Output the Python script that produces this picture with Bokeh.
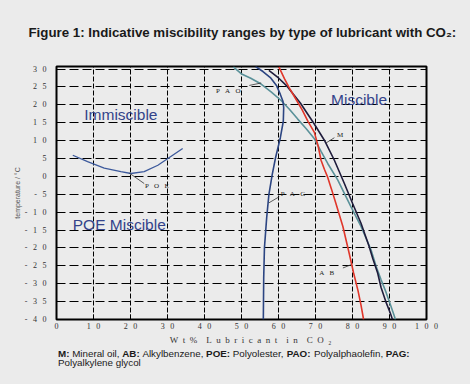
from bokeh.plotting import figure
from bokeh.models import Label, Range1d, FixedTicker
from bokeh.layouts import column
from bokeh.embed import file_html
from bokeh.resources import INLINE

# ---------------- data ----------------
pag_x = [53.8, 55.8, 57.8, 59.5, 60.5, 61.2, 61.4, 61.3, 60.5, 59.2, 58.3, 57.4, 56.8, 56.2, 56.0, 55.9]
pag_y = [30.7, 29.3, 27.6, 25.3, 22.9, 21.0, 19.2, 15.4, 10.8, 5.2, 0.5, -5.1, -11.6, -20.0, -28.4, -40.0]

m_x = [57.4, 60.0, 62.3, 65.9, 69.5, 72.4, 75.1, 77.8, 80.0, 82.3, 84.5, 85.5, 86.8, 87.7, 89.0, 90.2, 90.8]
m_y = [29.6, 27.5, 25.2, 20.5, 14.9, 10.1, 4.5, -2.0, -7.5, -13.1, -19.6, -23.0, -27.0, -31.0, -35.0, -38.2, -40.0]

ab_x = [60.1, 61.6, 63.2, 64.8, 66.4, 68.0, 69.7, 70.7, 71.5, 72.4, 73.2, 74.3, 75.5, 77.4, 79.1, 80.3, 81.5, 82.3, 83.0]
ab_y = [30.6, 27.3, 24.2, 21.4, 18.6, 15.3, 12.3, 8.5, 4.5, 2.0, 0.0, -3.5, -7.5, -14.0, -21.5, -27.0, -32.0, -36.0, -40.0]

pao_x = [47.8, 49.9, 52.5, 55.3, 58.0, 60.7, 63.0, 65.2, 67.5, 69.7, 71.5, 73.3, 76.0, 79.6, 82.3, 85.0, 86.4, 87.7, 89.1, 90.3, 91.3, 91.6]
pao_y = [30.6, 28.7, 27.4, 25.8, 23.6, 21.2, 18.7, 16.0, 13.3, 10.5, 7.0, 3.6, -1.0, -8.5, -14.0, -20.5, -25.2, -28.8, -32.5, -36.0, -39.0, -40.0]

poe_x = [4.4, 8.4, 12.9, 17.4, 20.1, 23.7, 27.4, 30.1, 34.1]
poe_y = [5.9, 4.1, 2.3, 1.3, 0.8, 1.3, 3.1, 5.0, 7.8]

x_ticks = [0, 10, 20, 30, 40, 50, 60, 70, 80, 90, 100]
x_tick_labels = ["0", "1 0", "2 0", "3 0", "4 0", "5 0", "6 0", "7 0", "8 0", "9 0", "1 0 0"]
y_ticks = [-40, -35, -30, -25, -20, -15, -10, -5, 0, 5, 10, 15, 20, 25, 30]
y_tick_labels = ["- 4 0", "- 3 5", "- 3 0", "- 2 5", "- 2 0", "- 1 5", "- 1 0", "- 5", "0", "5",
                 "1 0", "1 5", "2 0", "2 5", "3 0"]

title_text = "Figure 1: Indicative miscibility ranges by type of lubricant with CO\u2082:"
x_label = "W t %  L u b r i c a n t  i n  C O \u2082"
y_label = "temperature / \u00b0C"

caption_line1 = [("M:", True), (" Mineral oil, ", False), ("AB:", True), (" Alkylbenzene, ", False),
                 ("POE:", True), (" Polyolester, ", False), ("PAO:", True), (" Polyalphaolefin, ", False),
                 ("PAG:", True)]
caption_line2 = "Polyalkylene glycol"

EN = "\u2002"
THIN = "\u2009"
NB = "\u00a0"


def gap(s, g):
    return s.replace(" ", g)


# ---------------- styling ----------------
BG = "#ebebeb"
NAVY_TXT = "#33438a"
SERIF = "Liberation Serif"
SANS = "Liberation Sans"
W = 470


def strip(height):
    f = figure(width=W, height=height, x_range=Range1d(0, W), y_range=Range1d(0, height),
               output_backend="svg", toolbar_location=None,
               x_axis_location=None, y_axis_location=None,
               min_border=0, min_border_left=0, min_border_right=0, min_border_top=0, min_border_bottom=0,
               background_fill_color=BG, border_fill_color=BG, outline_line_color=None)
    f.xgrid.visible = False
    f.ygrid.visible = False
    if "frame_align" in f.properties():
        f.frame_align = False
    return f


# ---------------- header strip with the title (pixel coordinates) ----------------
HEAD_H = 50
head = strip(HEAD_H)
head.add_layout(Label(x=28, y=18, text=title_text, text_font=SANS, text_font_size="13.3px",
                      text_font_style="bold", text_color="#1a1a1a", text_baseline="alphabetic"))

# ---------------- main chart ----------------
MAIN_H = 283
p = figure(width=W, height=MAIN_H, x_range=Range1d(0, 100), y_range=Range1d(-40, 30.7),
           output_backend="svg", toolbar_location=None,
           min_border_left=56, min_border_right=44, min_border_top=16, min_border_bottom=14,
           background_fill_color=BG, border_fill_color=BG,
           outline_line_color="black", outline_line_width=2)
if "frame_align" in p.properties():
    p.frame_align = False

p.xaxis.ticker = FixedTicker(ticks=x_ticks)
p.yaxis.ticker = FixedTicker(ticks=y_ticks)
p.xaxis.major_label_overrides = {t: gap(l, EN + THIN) for t, l in zip(x_ticks, x_tick_labels)}
p.yaxis.major_label_overrides = {t: gap(l, EN + THIN) for t, l in zip(y_ticks, y_tick_labels)}
for ax in (p.xaxis, p.yaxis):
    ax.axis_line_color = None
    ax.major_tick_in = 5
    ax.major_tick_out = 0
    ax.major_tick_line_color = "black"
    ax.minor_tick_line_color = None
    ax.major_label_text_font = SERIF
    ax.major_label_text_font_size = "8px"
    ax.major_label_text_color = "#333333"
    ax.major_label_text_line_height = 1.0
p.xaxis.major_label_standoff = 2
p.yaxis.major_label_standoff = 10

p.yaxis.axis_label = y_label
p.yaxis.axis_label_text_font = SANS
p.yaxis.axis_label_text_font_size = "7px"
p.yaxis.axis_label_text_font_style = "normal"
p.yaxis.axis_label_text_color = "#555555"
p.yaxis.axis_label_standoff = 1

p.xgrid.grid_line_color = "black"
p.xgrid.grid_line_dash = "5 2"
p.xgrid.grid_line_width = 1
p.ygrid.grid_line_color = "black"
p.ygrid.grid_line_dash = "9 4"
p.ygrid.grid_line_width = 1

# ---------------- curves ----------------
p.line(poe_x, poe_y, line_color="#3d5a9c", line_width=1.3)
p.line(pao_x, pao_y, line_color="#5a9199", line_width=1.6)
p.line(pag_x, pag_y, line_color="#2c4582", line_width=1.6)
p.line(m_x, m_y, line_color="#1f1c3c", line_width=1.6)
p.line(ab_x, ab_y, line_color="#e0362a", line_width=1.6)

# ---------------- curve labels with leader lines ----------------
curve_labels = [
    ("P A O", 43.1, 23.0, (52.1, 55.3), (25.4, 26.1)),
    ("M", 75.8, 10.6, (72.8, 75.1), (9.3, 10.8)),
    ("A B", 71.0, -27.8, (77.4, 79.6), (-25.6, -24.7)),
    ("P A G", 60.6, -5.8, (57.4, 60.2), (-7.4, -5.7)),
    ("P O E", 23.9, -3.5, (19.7, 23.7), (0.9, -2.0)),
]
for txt, tx, ty, lx, ly in curve_labels:
    p.line(list(lx), list(ly), line_color="#333333", line_width=0.8)
    p.add_layout(Label(x=tx, y=ty, y_offset=3, text=gap(txt, EN + NB), text_font=SERIF,
                       text_font_size="7px", text_color="#222222", text_baseline="alphabetic"))

# ---------------- region labels ----------------
for txt, tx, ty in [("Immiscible", 7.5, 15.7), ("POE Miscible", 4.4, -15.0), ("Miscible", 74.2, 19.8)]:
    p.add_layout(Label(x=tx, y=ty, y_offset=6, text=txt, text_font=SANS, text_font_size="15.5px",
                       text_color=NAVY_TXT, text_baseline="alphabetic"))

# ---------------- bottom strip: x-axis title and caption (pixel coordinates) ----------------
CAP_H = 384 - HEAD_H - MAIN_H
cap = strip(CAP_H)
cap.add_layout(Label(x=250, y=CAP_H - 6, text=gap(x_label, EN), text_align="center",
                     text_font=SERIF, text_font_size="9px", text_color="#333333",
                     text_baseline="alphabetic"))

REG = {' ': 278, ',': 278, 'M': 833, 'i': 222, 'n': 556, 'e': 556, 'r': 333, 'a': 556, 'l': 222,
       'o': 556, 'A': 667, 'k': 500, 'y': 500, 'b': 556, 'z': 500, 'P': 667, 's': 500, 't': 278,
       'p': 556, 'h': 556, 'f': 278, 'g': 556, 'c': 500}
BOLD = {'M': 833, ':': 333, 'A': 722, 'B': 722, 'P': 667, 'O': 778, 'E': 667, 'G': 778, ' ': 278}
CAP_SIZE = 9.8
cx = 57.5
for txt, bold in caption_line1:
    table = BOLD if bold else REG
    lead = len(txt) - len(txt.lstrip(" "))
    cap.add_layout(Label(x=cx + lead * table[' '] * CAP_SIZE / 1000.0, y=CAP_H - 20, text=txt.strip(" "),
                         text_font=SANS, text_font_size=f"{CAP_SIZE}px",
                         text_font_style="bold" if bold else "normal",
                         text_color="#1a1a1a", text_baseline="alphabetic"))
    cx += sum(table.get(ch, 556) for ch in txt) * CAP_SIZE / 1000.0
cap.add_layout(Label(x=57.5, y=CAP_H - 29, text=caption_line2,
                     text_font=SANS, text_font_size=f"{CAP_SIZE}px",
                     text_color="#1a1a1a", text_baseline="alphabetic"))

layout = column(head, p, cap, spacing=0)
html = file_html(layout, INLINE)
html = html.replace("<head>", "<head><style>body{background:#ebebeb;}</style>", 1)
open("out.html", "w").write(html)
